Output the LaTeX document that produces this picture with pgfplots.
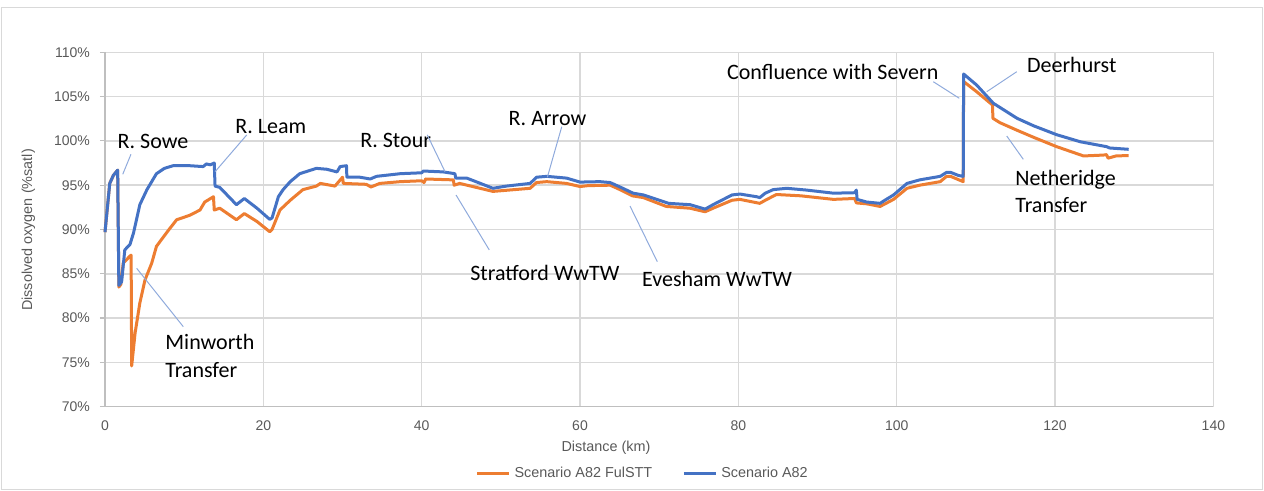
\documentclass[border=0pt]{standalone}
\usepackage{fontspec}
\setmainfont{Liberation Sans}
\newfontfamily\calibri{Carlito}
\usepackage{pgfplots}
\pgfplotsset{compat=1.18}
\definecolor{sorange}{HTML}{ED7D31}
\definecolor{sblue}{HTML}{4472C4}
\definecolor{gridc}{HTML}{D9D9D9}
\definecolor{axc}{HTML}{BFBFBF}
\definecolor{txtc}{HTML}{595959}
\definecolor{leader}{HTML}{8FAADC}
\begin{document}
\begin{tikzpicture}
\useasboundingbox (0,0) rectangle (632pt,245.5pt);
\draw[gridc, line width=0.5pt] (0.6pt,0.75pt) rectangle (631.3pt,241.5pt);
\begin{axis}[
  at={(52.5pt,42.15pt)}, anchor=south west,
  scale only axis, width=554.2pt, height=177.2pt,
  xmin=0, xmax=140, ymin=70, ymax=110,
  xtick={0,20,...,140}, ytick={70,75,...,110},
  /pgf/number format/assume math mode=true,
  yticklabel={\pgfmathprintnumber{\tick}\%},
  grid=major, major grid style={gridc, line width=0.75pt},
  axis x line*=bottom, axis y line*=left,
  axis line style={axc, line width=0.75pt, -},
  tick align=outside, major tick length=2.5pt,
  xtick style={draw=none}, ytick style={axc, line width=0.6pt},
  ticklabel style={font=\fontsize{7}{8}\selectfont, text=txtc},
  yticklabel style={xshift=-1.5pt},
  xticklabel style={yshift=-1pt},
  xlabel={Distance (km)}, ylabel={Dissolved oxygen (\%satl)},
  every axis x label/.style={at={(axis description cs:0.452,-0.117)}, anchor=center,
    font=\fontsize{7.2}{8}\selectfont, text=txtc},
  every axis y label/.style={at={(axis description cs:-0.0692,0.4986)}, rotate=90, anchor=center,
    font=\fontsize{7.2}{8}\selectfont, text=txtc},
  legend style={at={(axis description cs:0.486,-0.188)}, anchor=center, draw=none, fill=none,
    font=\fontsize{7.2}{8}\selectfont, text=txtc, legend columns=2,
    /tikz/every even column/.append style={column sep=13pt}},
  legend cell align=left,
  legend image code/.code={\draw[#1] (0pt,0pt) -- (16pt,0pt);},
  clip=false,
]
\addplot[sorange, line width=1.5pt, line join=round] coordinates {
(0,89.7) (0.6,95.2) (1.05,96.1) (1.6,96.7) (1.75,83.5) (2.0,83.8) (2.3,86.2)
(3.15,87.0) (3.3,87.1) (3.37,74.6) (3.8,78.3) (4.4,81.7) (5.05,84.3) (5.9,86.2)
(6.5,88.1) (8.0,89.9) (9.05,91.1) (10.7,91.6) (12.0,92.2) (12.6,93.1) (13.7,93.7)
(13.8,92.2) (14.5,92.4) (16.6,91.1) (17.6,91.8) (19.2,90.9) (20.8,89.75) (21.1,90.0)
(22.1,92.2) (23.4,93.3) (25.0,94.5) (26.7,94.9) (27.2,95.2) (29.05,94.9) (30.0,95.9)
(30.1,95.2) (33.0,95.1) (33.6,94.8) (34.7,95.2) (37.3,95.4) (40.0,95.5) (40.3,95.3)
(40.5,95.7) (44.0,95.6) (44.1,95.0) (44.8,95.2) (49.0,94.3) (53.7,94.65) (54.5,95.3)
(55.8,95.4) (58.3,95.2) (60.0,94.85) (61.0,94.95) (63.8,95.0) (65.05,94.5) (66.6,93.8)
(68.0,93.6) (70.9,92.6) (73.9,92.4) (75.8,92.0) (76.8,92.4) (79.2,93.3) (80.2,93.4)
(82.7,92.95) (83.4,93.3) (84.8,93.95) (87.9,93.8) (92.0,93.4) (94.7,93.5) (94.9,93.0)
(96.2,92.9) (97.9,92.6) (99.6,93.4) (101.3,94.65) (102.9,95.0) (105.5,95.4) (106.3,96.0)
(106.8,96.0) (108.4,95.4) (108.45,106.7) (110.1,105.55) (112.1,104.05) (112.15,102.55)
(113.05,102.05) (115.2,101.2) (117.3,100.4) (120.2,99.35) (123.6,98.3) (126.1,98.4)
(126.5,98.45) (126.7,98.05) (127.7,98.3) (129.3,98.35)
};
\addlegendentry{Scenario A82 FulSTT}
\addplot[sblue, line width=1.5pt, line join=round] coordinates {
(0,89.7) (0.6,95.2) (1.05,96.1) (1.6,96.7) (1.75,83.7) (2.1,84.1) (2.5,87.7)
(3.15,88.3) (3.6,89.6) (4.4,92.8) (5.3,94.5) (6.5,96.3) (7.5,96.9) (8.6,97.2)
(10.7,97.2) (12.4,97.1) (12.8,97.4) (13.3,97.3) (13.8,97.5) (13.9,94.9) (14.5,94.75)
(16.6,92.8) (17.6,93.5) (19.2,92.4) (20.8,91.15) (21.1,91.3) (21.9,93.7) (22.5,94.5)
(23.4,95.4) (24.6,96.3) (26.7,96.9) (28.0,96.8) (29.3,96.5) (29.7,97.1) (30.5,97.2)
(30.55,95.9) (32.2,95.9) (33.5,95.7) (34.3,96.0) (37.3,96.3) (40.0,96.4) (40.2,96.6)
(42.7,96.5) (44.2,96.3) (44.3,95.8) (45.7,95.8) (49.0,94.65) (50.7,94.9) (53.7,95.2)
(54.5,95.9) (55.8,96.0) (58.3,95.8) (60.0,95.35) (62.5,95.4) (63.8,95.3) (65.05,94.8)
(66.7,94.1) (68.0,93.9) (69.7,93.4) (71.2,92.95) (73.9,92.8) (75.8,92.3) (76.8,92.8)
(79.2,93.9) (80.2,94.0) (82.3,93.7) (82.7,93.6) (83.4,94.1) (84.4,94.5) (86.1,94.65)
(88.6,94.45) (92.0,94.1) (94.7,94.15) (94.9,94.45) (95.0,93.4) (96.2,93.1) (97.9,92.95)
(98.5,93.3) (99.6,93.9) (101.3,95.2) (102.9,95.6) (105.5,96.0) (106.3,96.45) (106.8,96.45)
(107.8,96.1) (108.4,96.0) (108.45,107.55) (110.1,106.3) (112.2,104.25) (115.2,102.55)
(117.3,101.7) (120.2,100.7) (123.2,99.9) (126.5,99.35) (126.9,99.2) (129.3,99.05)
};
\addlegendentry{Scenario A82}
% annotations
\tikzset{ann/.style={anchor=west, inner sep=0pt, font=\calibri\fontsize{11}{13}\selectfont, text=black},
         ld/.style={leader, line width=0.5pt}}
\node[ann] at (axis cs:1.55,99.9) {R. Sowe};
\draw[ld] (axis cs:3.28,98.49) -- (axis cs:2.24,96.23);
\node[ann] at (axis cs:16.42,101.6) {R. Leam};
\draw[ld] (axis cs:17.9,100.67) -- (axis cs:13.9,96.52);
\node[ann] at (axis cs:32.2,100.02) {R. Stour};
\draw[ld] (axis cs:40.71,100.67) -- (axis cs:42.95,96.52);
\node[ann] at (axis cs:50.94,102.55) {R. Arrow};
\draw[ld] (axis cs:57.69,101.6) -- (axis cs:55.87,95.89);
\node[ann] at (axis cs:78.53,107.74) {Confluence with Severn};
\draw[ld] (axis cs:104.62,106.68) -- (axis cs:107.9,104.81);
\node[ann] at (axis cs:116.42,108.57) {Deerhurst};
\draw[ld] (axis cs:115.16,107.81) -- (axis cs:111.37,105.55);
\node[ann] at (axis cs:7.58,77.27) {Minworth};
\node[ann] at (axis cs:7.58,74.14) {Transfer};
\draw[ld] (axis cs:4.0,85.62) -- (axis cs:9.89,79.03);
\node[ann] at (axis cs:46.1,85.06) {Stratford WwTW};
\draw[ld] (axis cs:44.34,93.89) -- (axis cs:48.54,87.69);
\node[ann] at (axis cs:67.79,84.38) {Evesham WwTW};
\draw[ld] (axis cs:66.31,92.65) -- (axis cs:69.76,86.37);
\node[ann] at (axis cs:114.94,95.67) {Netheridge};
\node[ann] at (axis cs:114.94,92.77) {Transfer};
\draw[ld] (axis cs:113.9,100.55) -- (axis cs:115.99,97.92);
\end{axis}
\end{tikzpicture}
\end{document}
